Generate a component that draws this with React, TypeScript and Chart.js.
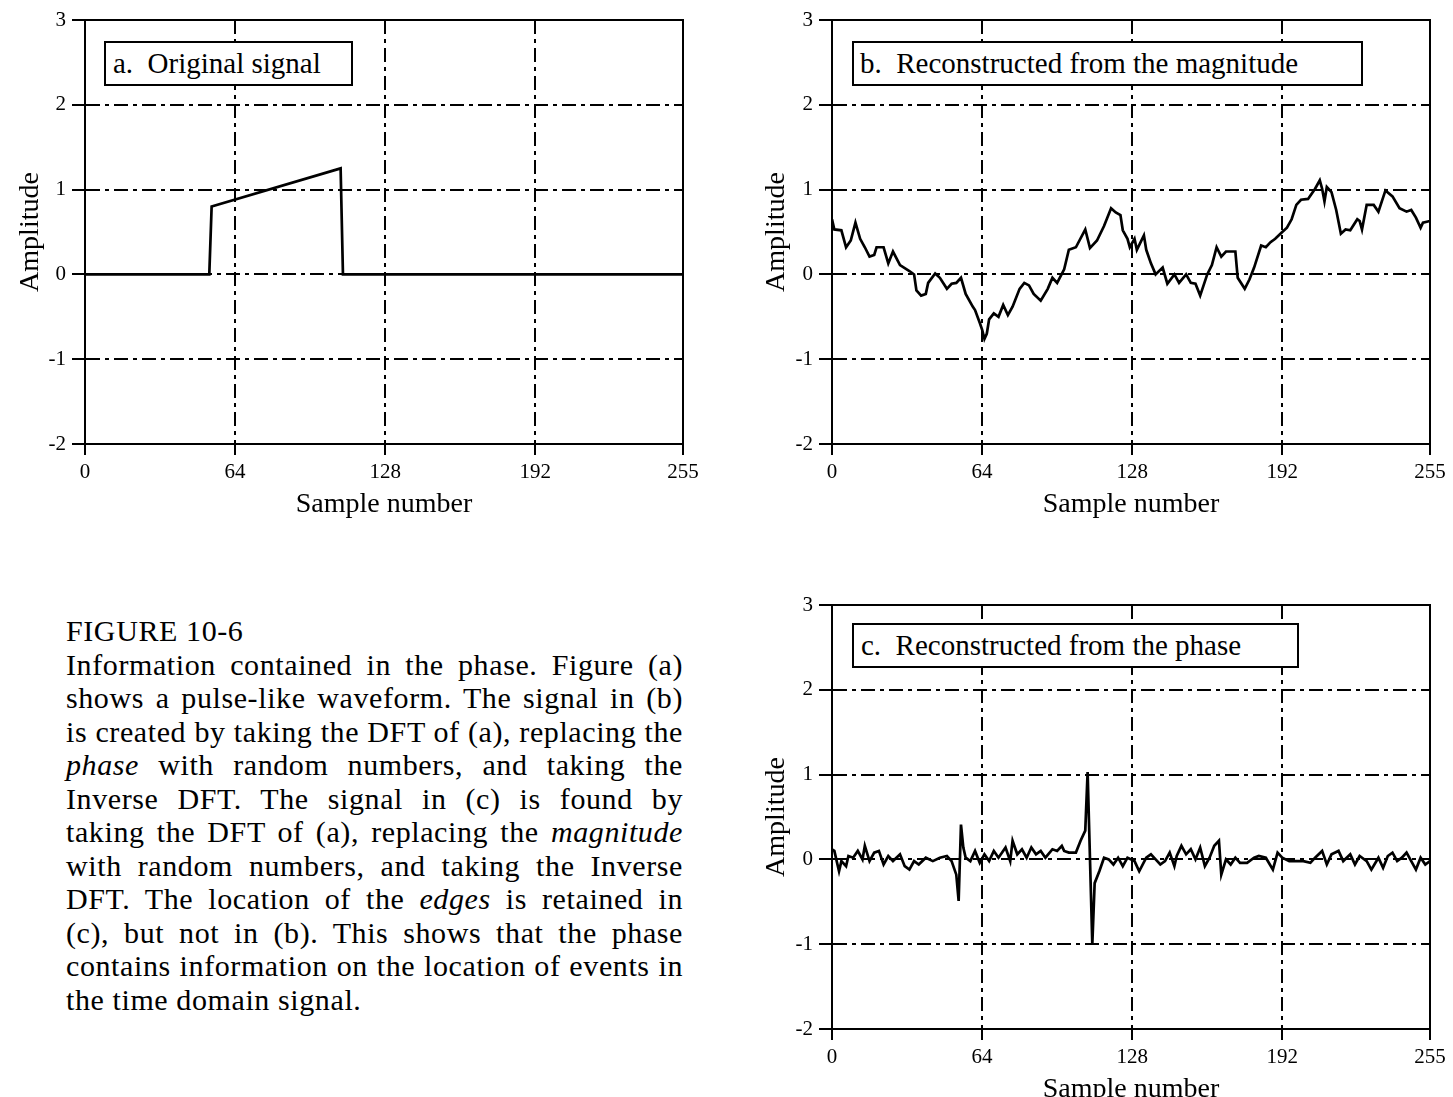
import React, { useEffect, useRef } from "react";
import { Chart, registerables } from "chart.js";

Chart.register(...registerables);

// ---- tick values ----
const xTickValues = [0, 64, 128, 192, 255];
const yTickValues = [-2, -1, 0, 1, 2, 3];

// ---- (a) original signal ----
const sampleA = [0, 53, 54, 109, 110, 255];
const valueA = [0, 0, 0.8, 1.25, 0, 0];

// ---- (b) reconstructed from the magnitude ----
const sampleB = [
  0, 1, 4, 6, 8, 10, 12, 14, 16, 18, 19, 22, 24, 26, 29, 33, 35, 36, 38, 40,
  41, 44, 46, 49, 51, 53, 55, 57, 60, 61, 63, 64, 65, 66, 67, 69, 71, 73, 75, 77,
  80, 82, 84, 86, 89, 92, 94, 96, 99, 101, 104, 108, 110, 113, 116, 119, 121, 123, 124, 126,
  127, 129, 130, 133, 134, 136, 138, 141, 143, 146, 148, 151, 153, 155, 157, 160, 162, 164, 166, 168,
  172, 173, 176, 178, 180, 183, 185, 187, 189, 192, 194, 196, 198, 200, 203, 206, 208, 209, 210, 211,
  213, 215, 217, 219, 221, 224, 225, 226, 228, 231, 233, 236, 239, 242, 245, 247, 249, 251, 252, 255,
];
const valueB = [
  0.65, 0.53, 0.52, 0.32, 0.4, 0.61, 0.42, 0.32, 0.21, 0.23, 0.32, 0.32, 0.13, 0.27, 0.11, 0.04, 0.0, -0.19, -0.25, -0.23,
  -0.1, 0.01, -0.04, -0.17, -0.11, -0.1, -0.04, -0.23, -0.38, -0.42, -0.57, -0.65, -0.76, -0.7, -0.53, -0.46, -0.5, -0.36, -0.48, -0.38,
  -0.17, -0.1, -0.13, -0.23, -0.31, -0.17, -0.04, -0.1, 0.06, 0.29, 0.32, 0.53, 0.31, 0.4, 0.57, 0.78, 0.73, 0.7, 0.52, 0.42,
  0.32, 0.42, 0.29, 0.46, 0.29, 0.13, 0.0, 0.08, -0.11, 0.0, -0.1, 0.0, -0.1, -0.11, -0.25, 0.0, 0.11, 0.32, 0.21, 0.27,
  0.27, -0.04, -0.17, -0.06, 0.08, 0.34, 0.32, 0.38, 0.42, 0.5, 0.55, 0.65, 0.82, 0.88, 0.89, 1.01, 1.11, 1.01, 0.86, 1.03,
  0.97, 0.76, 0.48, 0.53, 0.52, 0.65, 0.63, 0.53, 0.82, 0.82, 0.74, 0.99, 0.92, 0.78, 0.74, 0.76, 0.67, 0.55, 0.61, 0.63,
];

// ---- (c) reconstructed from the phase ----
const sampleC = [
  0, 1, 3, 4, 6, 7, 9, 11, 13, 14, 16, 18, 20, 22, 24, 26, 29, 31, 33, 35,
  37, 40, 43, 46, 49, 51, 53, 54, 55, 56, 57, 59, 61, 63, 65, 67, 69, 71, 74, 76,
  77, 79, 81, 83, 85, 87, 89, 91, 94, 96, 98, 99, 101, 104, 106, 108, 109, 111, 112, 114,
  116, 118, 120, 122, 124, 126, 129, 131, 134, 136, 138, 140, 142, 144, 146, 147, 149, 151, 153, 155,
  157, 159, 161, 163, 165, 166, 168, 170, 172, 174, 177, 180, 182, 185, 188, 190, 192, 195, 198, 201,
  204, 206, 209, 211, 213, 216, 218, 221, 223, 225, 228, 230, 233, 235, 237, 239, 241, 243, 245, 247,
  249, 251, 253, 255,
];
const valueC = [
  0.12, 0.1, -0.14, -0.02, -0.08, 0.04, 0.02, 0.1, 0.0, 0.16, -0.02, 0.08, 0.1, -0.06, 0.04, -0.02, 0.06, -0.08, -0.12, -0.02,
  -0.06, 0.02, -0.02, 0.02, 0.04, -0.02, -0.18, -0.49, 0.41, 0.14, 0.02, -0.02, 0.1, -0.04, 0.06, -0.02, 0.1, 0.02, 0.14, -0.02,
  0.22, 0.06, 0.12, 0.02, 0.14, 0.06, 0.1, 0.02, 0.12, 0.1, 0.16, 0.1, 0.08, 0.08, 0.22, 0.34, 1.03, -1.0, -0.28, -0.14,
  0.02, 0.0, -0.06, 0.02, -0.08, 0.02, -0.02, -0.14, 0.02, 0.06, 0.0, -0.06, -0.02, 0.08, -0.08, 0.04, 0.16, 0.06, 0.12, 0.0,
  0.14, -0.08, 0.02, 0.16, 0.22, -0.18, 0.0, -0.06, 0.02, -0.04, -0.04, 0.02, 0.04, 0.02, -0.12, 0.08, 0.02, -0.02, -0.02, -0.02,
  -0.04, 0.02, 0.1, -0.06, 0.06, 0.1, -0.02, 0.06, -0.06, 0.04, -0.02, -0.12, 0.02, -0.1, 0.04, 0.08, -0.02, 0.02, 0.08, -0.02,
  -0.12, 0.02, -0.06, -0.02,
];

const legendA = "a.  Original signal";
const legendB = "b.  Reconstructed from the magnitude";
const legendC = "c.  Reconstructed from the phase";

const captionLines: { text: React.ReactNode; justify: boolean }[] = [
  { text: "FIGURE 10-6", justify: false },
  { text: "Information contained in the phase.  Figure (a)", justify: true },
  { text: "shows a pulse-like waveform.  The signal in (b)", justify: true },
  { text: "is created by taking the DFT of (a), replacing the", justify: true },
  { text: <><i>phase</i> with random numbers, and taking the</>, justify: true },
  { text: "Inverse DFT.  The signal in (c) is found by", justify: true },
  { text: <>taking the DFT of (a), replacing the <i>magnitude</i></>, justify: true },
  { text: "with random numbers, and taking the Inverse", justify: true },
  { text: <>DFT.  The location of the <i>edges</i> is retained in</>, justify: true },
  { text: "(c), but not in (b).  This shows that the phase", justify: true },
  { text: "contains information on the location of events in", justify: true },
  { text: "the time domain signal.", justify: false },
];

const FONT = "'Liberation Serif', 'Times New Roman', serif";
const GRID_DASH = [14, 5, 4, 5];

const framePlugin = {
  id: "frameBox",
  beforeDatasetsDraw(chart: any) {
    const { ctx, chartArea: a } = chart;
    ctx.save();
    ctx.strokeStyle = "#000";
    ctx.lineWidth = 2;
    ctx.setLineDash([]);
    ctx.strokeRect(a.left, a.top, a.right - a.left, a.bottom - a.top);
    ctx.restore();
  },
};

const CANVAS_H = 540;

function Panel(props: {
  samples: number[];
  values: number[];
  left: number;
  top: number;
  width: number;
  yAxisWidth: number;
  rightPad: number;
}) {
  const ref = useRef<HTMLCanvasElement>(null);
  const { samples, values, left, top, width, yAxisWidth, rightPad } = props;

  useEffect(() => {
    if (!ref.current) return;
    const points = samples.map((s, i) => ({ x: s, y: values[i] }));
    const chart = new Chart(ref.current, {
      type: "line",
      data: {
        datasets: [
          {
            data: points,
            borderColor: "#000",
            borderWidth: 2.7,
            pointRadius: 0,
            tension: 0,
            fill: false,
          },
        ],
      },
      options: {
        responsive: false,
        maintainAspectRatio: false,
        animation: false,
        layout: { padding: { top: 20, right: rightPad, bottom: 0, left: 0 } },
        plugins: {
          legend: { display: false },
          tooltip: { enabled: false },
          title: { display: false },
        },
        scales: {
          x: {
            type: "linear",
            min: 0,
            max: 255,
            afterBuildTicks: (s: any) => {
              s.ticks = xTickValues.map((v) => ({ value: v }));
            },
            afterFit: (s: any) => {
              s.height = CANVAS_H - 444;
            },
            grid: {
              color: "#000",
              lineWidth: 2,
              drawTicks: true,
              tickLength: 11,
              tickWidth: 2,
              tickColor: "#000",
            },
            border: { display: true, color: "#000", width: 2, dash: GRID_DASH },
            ticks: {
              color: "#000",
              font: { family: FONT, size: 21 },
              padding: 5,
              maxRotation: 0,
              autoSkip: false,
            },
            title: {
              display: true,
              text: "Sample number",
              color: "#000",
              font: { family: FONT, size: 28 },
              padding: { top: 0, bottom: 19 },
            },
          },
          y: {
            type: "linear",
            min: -2,
            max: 3,
            afterBuildTicks: (s: any) => {
              s.ticks = yTickValues.map((v) => ({ value: v }));
            },
            afterFit: (s: any) => {
              s.width = yAxisWidth;
            },
            grid: {
              color: "#000",
              lineWidth: 2,
              drawTicks: true,
              tickLength: 13,
              tickWidth: 2,
              tickColor: "#000",
            },
            border: { display: true, color: "#000", width: 2, dash: GRID_DASH },
            ticks: {
              color: "#000",
              font: { family: FONT, size: 21 },
              padding: 6,
            },
            title: {
              display: true,
              text: "Amplitude",
              color: "#000",
              font: { family: FONT, size: 28 },
              padding: { top: 14, bottom: 0 },
            },
          },
        },
      },
      plugins: [framePlugin],
    } as any);
    return () => chart.destroy();
  }, []);

  return (
    <canvas
      ref={ref}
      width={width}
      height={CANVAS_H}
      style={{ position: "absolute", left, top, width, height: CANVAS_H }}
    />
  );
}

function LegendBox(props: { text: string; left: number; top: number; width: number; padLeft: number }) {
  return (
    <div
      style={{
        position: "absolute",
        left: props.left,
        top: props.top,
        width: props.width,
        height: 45,
        boxSizing: "border-box",
        border: "2px solid #000",
        background: "#fff",
        fontFamily: FONT,
        fontSize: 29,
        lineHeight: "41px",
        paddingLeft: props.padLeft,
        whiteSpace: "pre",
        color: "#000",
      }}
    >
      {props.text}
    </div>
  );
}

export default function App() {
  return (
    <div
      style={{
        position: "absolute",
        left: 0,
        top: 0,
        width: 1453,
        height: 1097,
        overflow: "hidden",
        background: "#fff",
      }}
    >
      <Panel samples={sampleA} values={valueA} left={0} top={0} width={720} yAxisWidth={85} rightPad={37} />
      <Panel samples={sampleB} values={valueB} left={746} top={0} width={707} yAxisWidth={86} rightPad={23} />
      <Panel samples={sampleC} values={valueC} left={746} top={585} width={707} yAxisWidth={86} rightPad={23} />

      <LegendBox text={legendA} left={104} top={41} width={249} padLeft={7} />
      <LegendBox text={legendB} left={852} top={41} width={511} padLeft={6} />
      <LegendBox text={legendC} left={852} top={623} width={447} padLeft={7} />

      <div
        style={{
          position: "absolute",
          left: 66,
          top: 614,
          width: 617,
          fontFamily: FONT,
          fontSize: 30,
          lineHeight: "33.5px",
          letterSpacing: "0.6px",
          color: "#000",
        }}
      >
        {captionLines.map((l, i) => (
          <div
            key={i}
            style={{
              textAlign: l.justify ? "justify" : "left",
              textAlignLast: l.justify ? "justify" : "left",
            }}
          >
            {l.text}
          </div>
        ))}
      </div>
    </div>
  );
}
